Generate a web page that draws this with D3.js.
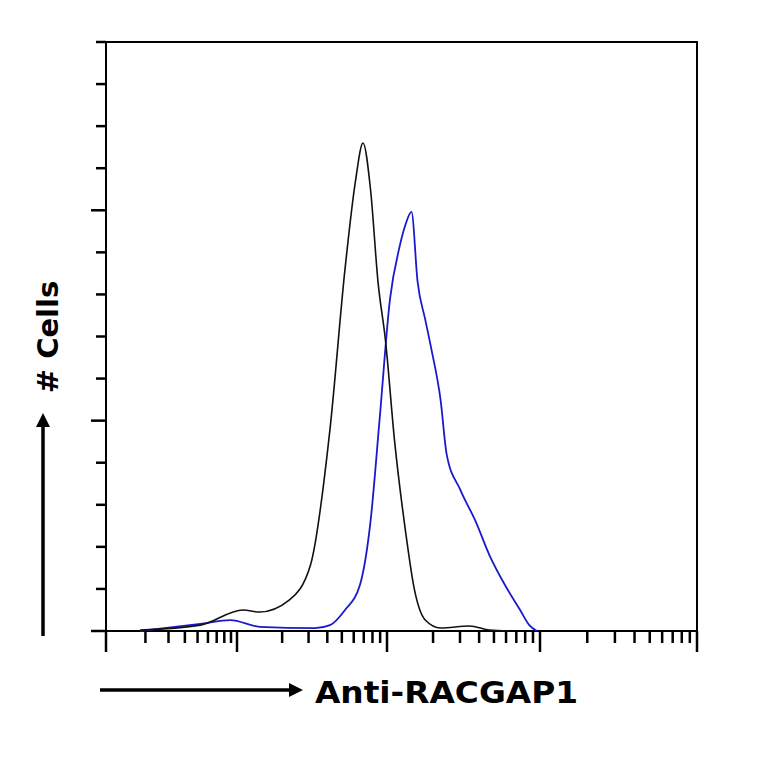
<!DOCTYPE html>
<html><head><meta charset="utf-8">
<script src="https://cdn.jsdelivr.net/npm/d3@7"></script>
<style>body{margin:0;background:#fff}</style></head>
<body><svg id="chart" width="764" height="764"></svg>
<script>
// x in log10 decades, y in counts
const isoX = [0.26,0.72,1.04,1.15,1.35,1.49,1.62,1.72,1.79,1.84,1.89,1.94,1.99,2.05,2.12,2.18,2.25,2.35,2.54,2.67,2.80];
const isoY = [0.2,1.4,5,4.5,7.4,15.7,48,86,107,116,105,83,69,45,24,9.7,2.6,0.7,1.2,0.2,0];
const racX = [0.26,0.72,0.95,1.15,1.52,1.62,1.72,1.82,1.89,1.95,2.02,2.08,2.12,2.16,2.20,2.25,2.29,2.35,2.39,2.48,2.58,2.67,2.77,2.87,2.93,2.98];
const racY = [0,1.7,2.6,1,0.7,1.4,5,11,26,50,79,91,96.5,99.6,83,74,67,55,42,33.5,26,18,11,5,1.4,0];
const decades = [0,1,2,3,4];
const yTicks = d3.range(0,141,10);

const svg = d3.select('#chart');
const x = d3.scaleLinear().domain(decades).range([106,237,387,540,697]);
const y = d3.scaleLinear().domain([0,140]).range([631,42]);

svg.append('rect').attr('x',106).attr('y',42).attr('width',591).attr('height',589)
  .attr('fill','none').attr('stroke','#000').attr('stroke-width',2);

// y ticks
svg.selectAll('.yt').data(yTicks).enter().append('line')
  .attr('x1', d => d % 50 === 0 ? 91 : 96).attr('x2',106)
  .attr('y1', d => y(d)).attr('y2', d => y(d))
  .attr('stroke','#000').attr('stroke-width',2.5);

// x ticks (log)
const minor = [];
decades.slice(0,4).forEach(dd => { for (let k=2;k<10;k++) minor.push(dd+Math.log10(k)); });
svg.selectAll('.xm').data(minor).enter().append('line')
  .attr('x1', d => x(d)).attr('x2', d => x(d)).attr('y1',631).attr('y2',643)
  .attr('stroke','#000').attr('stroke-width',2.5);
svg.selectAll('.xM').data(decades).enter().append('line')
  .attr('x1', d => x(d)).attr('x2', d => x(d)).attr('y1',631).attr('y2',652)
  .attr('stroke','#000').attr('stroke-width',2.5);

const line = d3.line().x(d => x(d[0])).y(d => y(d[1])).curve(d3.curveMonotoneX);
svg.append('path').datum(d3.zip(racX,racY)).attr('d',line)
  .attr('fill','none').attr('stroke','#1a1acc').attr('stroke-width',1.8);
svg.append('path').datum(d3.zip(isoX,isoY)).attr('d',line)
  .attr('fill','none').attr('stroke','#111').attr('stroke-width',1.6);

// arrows
const defs = svg.append('defs');
defs.append('marker').attr('id','ah').attr('viewBox','0 0 10 10').attr('refX',5).attr('refY',5)
  .attr('markerWidth',4).attr('markerHeight',4).attr('orient','auto')
  .append('path').attr('d','M0,0L10,5L0,10z').attr('fill','#000');
svg.append('line').attr('x1',100).attr('y1',690).attr('x2',296).attr('y2',690)
  .attr('stroke','#000').attr('stroke-width',3.5).attr('marker-end','url(#ah)');
svg.append('line').attr('x1',43).attr('y1',636).attr('x2',43).attr('y2',420)
  .attr('stroke','#000').attr('stroke-width',3.5).attr('marker-end','url(#ah)');

svg.append('text').attr('x',315).attr('y',703).text('Anti-RACGAP1')
  .attr('font-family','DejaVu Sans').attr('font-weight','bold').attr('font-size',30)
  .attr('textLength',263).attr('lengthAdjust','spacingAndGlyphs');
svg.append('text').attr('transform','translate(58,337) rotate(-90)').attr('text-anchor','middle')
  .text('# Cells').attr('font-family','DejaVu Sans').attr('font-weight','bold').attr('font-size',29);
</script></body></html>
